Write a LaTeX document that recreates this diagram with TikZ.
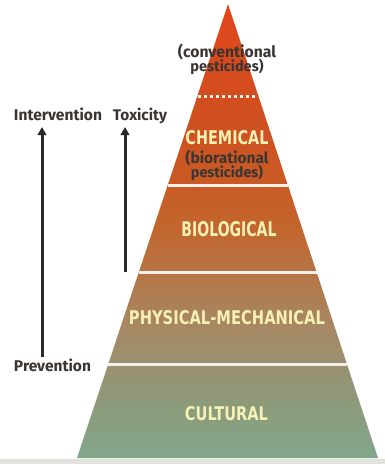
\documentclass[tikz,border=0pt]{standalone}
\usepackage{fontspec}
\usepackage{graphicx}
\usetikzlibrary{arrows.meta,calc}
\newfontfamily\lblfont{Fira Sans}
\newfontfamily\capsfont{DejaVu Sans}

% colour stops of the pyramid, bottom to top
\definecolor{pA}{HTML}{82A68A}
\definecolor{pB}{HTML}{8B9C7C}
\definecolor{pC}{HTML}{9A9070}
\definecolor{pD}{HTML}{A68A66}
\definecolor{pE}{HTML}{AD7E54}
\definecolor{pF}{HTML}{B67444}
\definecolor{pG}{HTML}{C2672F}
\definecolor{pH}{HTML}{C95A24}
\definecolor{pI}{HTML}{CF5020}
\definecolor{pJ}{HTML}{D84A1E}
\definecolor{pK}{HTML}{E2461C}
\definecolor{bandtext}{HTML}{F6F1B4}
\definecolor{darktext}{HTML}{3A3532}
\definecolor{arrowcol}{HTML}{2A2A2A}
\definecolor{gap}{HTML}{F2F1EC}
\definecolor{floor}{HTML}{E2E2DE}

% 25bp = base of the pyramid, 75bp = apex
\pgfdeclareverticalshading{pyramidshade}{100bp}{%
  color(0bp)=(pA); color(25bp)=(pA);
  color(30.3bp)=(pB); color(35.4bp)=(pC); color(39bp)=(pD);
  color(42.5bp)=(pE); color(45.4bp)=(pF); color(50.1bp)=(pG);
  color(55.1bp)=(pH); color(62.2bp)=(pI); color(68.8bp)=(pJ);
  color(75bp)=(pK); color(100bp)=(pK)}

\tikzset{
  bandlabel/.style={font=\capsfont\bfseries, text=bandtext, inner sep=0pt, anchor=base},
  note/.style={font=\lblfont\bfseries, text=darktext, inner sep=0pt, anchor=base},
  sidelabel/.style={font=\lblfont\bfseries, text=darktext, inner sep=0pt, anchor=base},
  divider/.style={draw=gap, line width=3pt},
  scalearrow/.style={draw=arrowcol, line width=3pt, -{Triangle[width=8.5pt,length=8pt]}}
}

\begin{document}
\begin{tikzpicture}[x=1pt,y=1pt]
\useasboundingbox (0,0) rectangle (385,-464);
\fill[white] (0,0) rectangle (385,-464);
\fill[floor] (0,-459) rectangle (385,-464);

% pyramid outline
\coordinate (apex) at (228,-4);
\coordinate (bl) at (77,-458);
\coordinate (br) at (378,-458);
\shade[shading=pyramidshade] (apex) -- (bl) -- (br) -- cycle;

% dividing lines between the levels
\foreach \n/\f in {d/0.2048, a/0.3987, b/0.5925, c/0.7930}{
  \coordinate (L\n) at ($(apex)!\f!(bl)$);
  \coordinate (R\n) at ($(apex)!\f!(br)$);
}
\draw[divider, dash pattern=on 3pt off 3pt] ($(Ld)+(1,0)$) -- ($(Rd)+(-2,0)$);
\draw[divider] (La) -- (Ra);
\draw[divider] (Lb) -- (Rb);
\draw[divider] (Lc) -- (Rc);

% level labels
\node[note] (conv1) at (227,-57) {\resizebox{98pt}{!}{(conventional}};
\node[note] (conv2) at (227,-71) {\resizebox{73pt}{!}{pesticides)}};
\node[bandlabel] (chem) at (227,-144) {\resizebox{83pt}{14pt}{CHEMICAL}};
\node[note] (bior1) at (227,-163) {\resizebox{83pt}{!}{(biorational}};
\node[note] (bior2) at (227,-177) {\resizebox{72pt}{!}{pesticides)}};
\node[bandlabel] (bio) at (229,-236.5) {\resizebox{95pt}{15pt}{BIOLOGICAL}};
\node[bandlabel] (phys) at (227,-324) {\resizebox{196pt}{14pt}{PHYSICAL-MECHANICAL}};
\node[bandlabel] (cult) at (226.5,-420) {\resizebox{83pt}{14pt}{CULTURAL}};

% scales on the left
\node[sidelabel] (interv) at (58,-120) {\resizebox{88pt}{!}{Intervention}};
\node[sidelabel] (tox) at (140,-120) {\resizebox{54pt}{!}{Toxicity}};
\node[sidelabel] (prev) at (52.5,-371.5) {\resizebox{77pt}{!}{Prevention}};

\coordinate (intervtop) at (42,-127);
\coordinate (intervbot) at (42,-357);
\coordinate (toxtop) at (125,-127);
\coordinate (toxbot) at (125,-272);
\draw[scalearrow] (intervbot) -- (intervtop);
\draw[scalearrow] (toxbot) -- (toxtop);
\end{tikzpicture}
\end{document}
